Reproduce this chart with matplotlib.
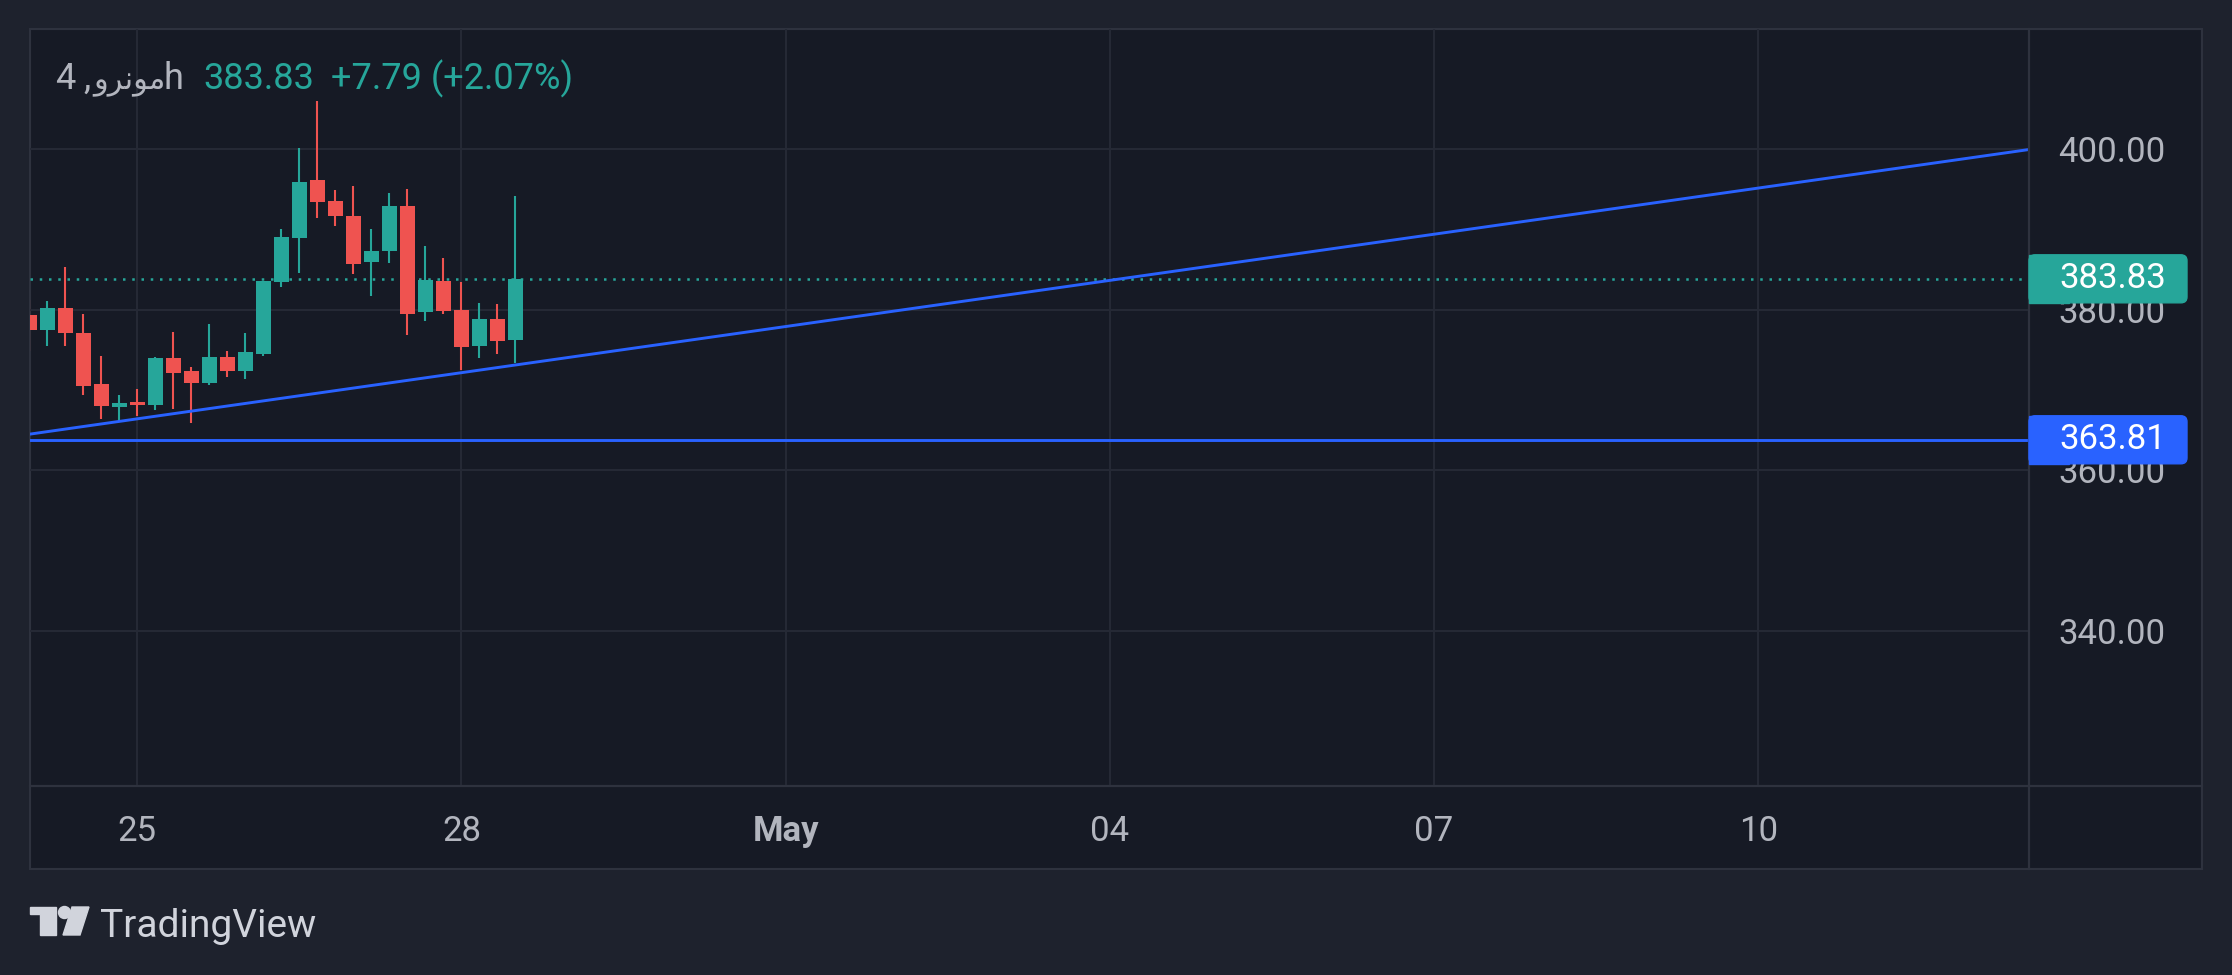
import matplotlib
matplotlib.use('Agg')
import matplotlib.pyplot as plt
import matplotlib.dates as mdates
from matplotlib.patches import Rectangle, Polygon, Circle, FancyBboxPatch
import pandas as pd

plt.rcParams['font.family'] = ['Roboto', 'DejaVu Sans']

# 4h candles
bar_time = pd.date_range('2024-04-24 00:00', periods=28, freq='4h')
opens = [379.38, 377.42, 380.25, 377.13, 370.75, 367.92, 368.46, 368.17, 374.00, 372.38,
         370.92, 374.13, 372.42, 374.54, 383.42, 388.92, 396.13, 393.50, 391.63, 385.92,
         387.29, 392.88, 379.67, 383.50, 380.00, 375.42, 378.88, 376.17]
highs = [381.25, 381.13, 385.25, 379.50, 374.25, 369.38, 370.13, 374.13, 377.25, 372.88,
         378.25, 374.88, 377.13, 383.50, 390.00, 400.13, 406.00, 394.88, 395.38, 390.00,
         394.50, 395.00, 387.88, 386.38, 383.38, 380.88, 380.75, 394.13]
lows = [374.79, 375.42, 375.50, 369.42, 366.42, 366.04, 366.79, 367.54, 367.67, 365.92,
        370.67, 371.67, 371.42, 374.29, 382.79, 384.54, 391.42, 390.42, 384.42, 381.75,
        385.79, 376.79, 378.54, 379.42, 372.54, 373.92, 374.42, 373.42]
closes = [377.46, 380.25, 377.04, 370.54, 368.04, 368.38, 368.13, 374.00, 372.17, 370.92,
          374.13, 372.42, 374.75, 383.50, 389.00, 395.88, 393.42, 391.67, 385.67, 387.33,
          392.88, 379.42, 383.63, 379.79, 375.29, 378.88, 376.04, 383.83]

last_price = 383.83
support_price = 363.81
trend_time = ['2024-04-24 00:00', '2024-05-12 12:00']
trend_price = [364.5, 399.9]

price_ticks = [340, 360, 380, 400]
date_ticks = ['2024-04-25', '2024-04-28', '2024-05-01', '2024-05-04', '2024-05-07', '2024-05-10']
date_labels = ['25', '28', 'May', '04', '07', '10']

# symbol name, drawn in visual order (presentation forms)
title_num = '4'
title_sep = ','
title_name = 'ﻭﺮﻧﻮﻣ'
title_tf = 'h'
price_txt = '383.83'
change_txt = '+7.79 (+2.07%)'

GREEN = '#26a69a'
RED = '#ef5350'
BLUE = '#2962ff'
TEXT = '#b2b5be'
GRID = '#252935'
BORDER = '#2e323e'

W, H = 2232, 975
fig = plt.figure(figsize=(W / 100, H / 100), dpi=100, facecolor='#1e222d')


def fx(px):
    return px / W


def fy(py):
    return 1 - py / H


# whole chart panel
panel = fig.add_axes([fx(30), fy(869), fx(2202) - fx(30), fy(29) - fy(869)])
panel.set_facecolor('#161a25')
panel.set_xticks([])
panel.set_yticks([])
for s in panel.spines.values():
    s.set_color(BORDER)
    s.set_linewidth(1.5)

ax = fig.add_axes([fx(30), fy(786), fx(2029) - fx(30), fy(29) - fy(786)])
ax.set_facecolor('none')
for s in ax.spines.values():
    s.set_visible(False)

t = mdates.date2num(bar_time)
bar_w = 0.1389
for i in range(len(t)):
    col = GREEN if closes[i] >= opens[i] else RED
    ax.vlines(t[i], lows[i], highs[i], color=col, lw=1.5, zorder=3)
    lo = min(opens[i], closes[i])
    ax.bar(t[i], max(abs(closes[i] - opens[i]), 0.15), bottom=lo, width=bar_w,
           color=col, zorder=4)

ax.plot(mdates.date2num(pd.to_datetime(trend_time)), trend_price, color=BLUE, lw=2.1, zorder=5)
ax.axhline(support_price, color=BLUE, lw=2.1, zorder=5)
ax.axhline(last_price, color=GREEN, lw=1.8, ls=(0, (1, 2.7)), zorder=2)

t0 = mdates.date2num(pd.Timestamp('2024-04-25'))
ax.set_xlim(t0 - 5.95 / 6, t0 + 105.03 / 6)
ax.set_ylim(320.75, 414.9)

ax.set_yticks(price_ticks)
ax.set_yticklabels(['%.2f' % v for v in price_ticks])
ax.yaxis.tick_right()
ax.tick_params(axis='y', length=0, pad=21, labelsize=25, labelcolor=TEXT)

ax.set_xticks(mdates.date2num(pd.to_datetime(date_ticks)))
ax.set_xticklabels(date_labels)
ax.tick_params(axis='x', length=0, pad=21, labelsize=25, labelcolor=TEXT)
for lab in ax.get_xticklabels():
    if lab.get_text() == 'May':
        lab.set_fontweight('bold')

ax.grid(True, color=GRID, lw=1.5, zorder=0)
ax.set_axisbelow(True)

# overlay in pixel coords for separators, price labels, header and logo
ov = fig.add_axes([0, 0, 1, 1])
ov.set_xlim(0, W)
ov.set_ylim(H, 0)
ov.axis('off')
ov.patch.set_visible(False)

ov.plot([2029, 2029], [29, 869], color=BORDER, lw=1.6)
ov.plot([30, 2202], [786, 786], color=BORDER, lw=1.6)

# price labels on the scale
for val, col in [(last_price, GREEN), (support_price, BLUE)]:
    yp = H - ax.transData.transform((t0, val))[1]
    ov.add_patch(FancyBboxPatch((2029, yp - 24), 2187 - 2029, 48,
                                boxstyle='round,pad=0,rounding_size=6', color=col, zorder=6))
    ov.add_patch(Rectangle((2029, yp - 24), 40, 48, color=col, zorder=6))
    ov.text(2059, yp, '%.2f' % val, color='white', fontsize=25, va='center', ha='left', zorder=7)

ov.text(55, 89, title_num, color=TEXT, fontsize=26, va='baseline', ha='left')
ov.text(83, 89, title_sep, color=TEXT, fontsize=26, va='baseline', ha='left')
ov.text(93, 89, title_name, color=TEXT, fontsize=22, va='baseline', ha='left')
ov.text(164, 89, title_tf, color=TEXT, fontsize=26, va='baseline', ha='left')
ov.text(203, 89, price_txt, color=GREEN, fontsize=26, va='baseline', ha='left')
ov.text(331, 89, change_txt, color=GREEN, fontsize=26, va='baseline', ha='left')

LOGO = '#d1d4dc'
ov.add_patch(Polygon([(30, 907), (56, 907), (56, 935), (40, 935), (40, 914), (30, 914)],
                     closed=True, color=LOGO))
ov.add_patch(Circle((64.5, 912.5), 6, color=LOGO))
ov.add_patch(Polygon([(72, 907), (89, 907), (80, 935), (63, 935)], closed=True, color=LOGO))
ov.text(100, 937, 'TradingView', color=LOGO, fontsize=28, va='baseline', ha='left')

fig.savefig('out.png', dpi=100, facecolor=fig.get_facecolor())
